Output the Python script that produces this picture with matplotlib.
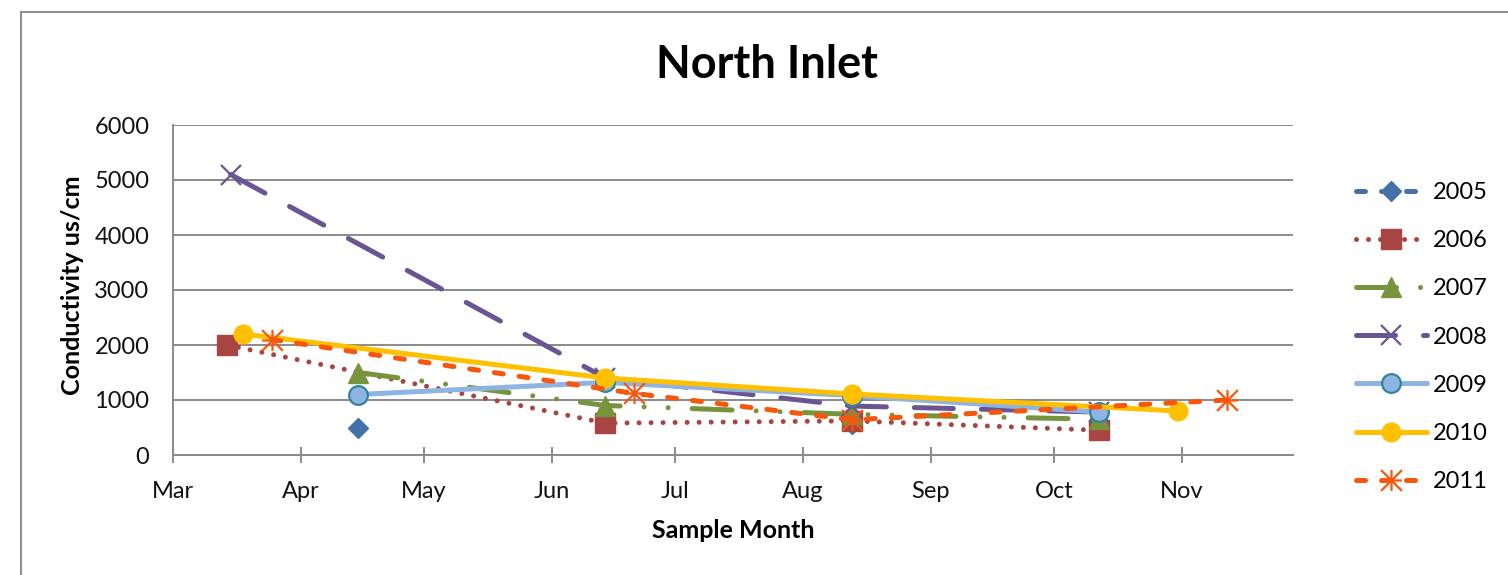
import datetime as dt

import matplotlib
matplotlib.use("Agg")
import matplotlib.pyplot as plt
import matplotlib.dates as mdates
from matplotlib.lines import Line2D
from matplotlib.path import Path

plt.rcParams["font.family"] = ["Lato", "DejaVu Sans"]
plt.rcParams["lines.scale_dashes"] = False

# Sample dates share one calendar year; only month/day matter on the axis.
YEAR = 2011


def day(month, dom):
    return dt.date(YEAR, month, dom)


years = ["2005", "2006", "2007", "2008", "2009", "2010", "2011"]

dates_2005 = [day(4, 15), day(6, 14), day(8, 13)]
cond_2005 = [500, float("nan"), 560]

dates_2006 = [day(3, 14), day(6, 14), day(8, 13), day(10, 12)]
cond_2006 = [2000, 580, 620, 450]

dates_2007 = [day(4, 15), day(6, 14), day(8, 13), day(10, 12)]
cond_2007 = [1500, 900, 740, 650]

dates_2008 = [day(3, 15), day(6, 14), day(8, 13), day(10, 12)]
cond_2008 = [5100, 1400, 890, 780]

dates_2009 = [day(4, 15), day(6, 14), day(8, 13), day(10, 12)]
cond_2009 = [1100, 1320, 1080, 780]

dates_2010 = [day(3, 18), day(6, 14), day(8, 13), day(10, 31)]
cond_2010 = [2200, 1400, 1110, 800]

dates_2011 = [day(3, 25), day(6, 21), day(8, 13), day(11, 12)]
cond_2011 = [2100, 1120, 640, 1000]

y_ticks = [0, 1000, 2000, 3000, 4000, 5000, 6000]

PX = 72.0 / 100.0  # points per pixel at 100 dpi
W, H = 1508, 575

# asterisk marker: vertical, horizontal and both diagonals
star_path = Path(
    [(0, -1), (0, 1), (-1, 0), (1, 0), (-1, -1), (1, 1), (-1, 1), (1, -1)],
    [Path.MOVETO, Path.LINETO] * 4,
)

fig = plt.figure(figsize=(W / 100, H / 100), dpi=100)
ax = fig.add_axes([173 / W, 1 - 455 / H, 1120 / W, 330 / H])

lw = 5 * PX
common = dict(lw=lw, dash_capstyle="round", solid_capstyle="round")

ax.plot(dates_2005, cond_2005, color="#4472A8", marker="D", ms=10.2,
        mec="#4472A8", dashes=(9 * PX, 16 * PX), label="2005", **common)
ax.plot(dates_2006, cond_2006, color="#A84442", marker="s", ms=14,
        mec="#A84442", lw=5 * PX, dashes=(0.01, 12 * PX),
        dash_capstyle="round", label="2006")
ax.plot(dates_2007, cond_2007, color="#77933C", marker="^", ms=14.5,
        mec="#77933C",
        dashes=(40 * PX, 24 * PX, 0.01, 24 * PX, 0.01, 24 * PX),
        label="2007", **common)
ax.plot(dates_2008, cond_2008, color="#6A5592", marker="x", ms=14.5,
        mew=1.6, dashes=(39 * PX, 28 * PX), label="2008", **common)
ax.plot(dates_2009, cond_2009, color="#8DB4E2", marker="o", ms=13.5,
        mfc="#8DB4E2", mec="#31859C", mew=1.6, label="2009", **common)
ax.plot(dates_2010, cond_2010, color="#FFC000", marker="o", ms=13.5,
        mec="#FFC000", label="2010", **common)
ax.plot(dates_2011, cond_2011, color="#F8570B", marker=star_path, ms=15,
        mew=1.6, mec="#F8570B", dashes=(9 * PX, 16 * PX), label="2011",
        **common)

# axes styling
grid_col = "#8A8A8A"
ax.set_ylim(0, 6000)
ax.set_yticks(y_ticks)
ax.set_xlim(mdates.date2num(day(3, 1)), mdates.date2num(day(11, 28)))
ax.xaxis.set_major_locator(mdates.MonthLocator())
ax.xaxis.set_major_formatter(mdates.DateFormatter("%b"))
ax.yaxis.grid(True, color=grid_col, lw=1.4)
ax.set_axisbelow(True)
for s in ("top", "right"):
    ax.spines[s].set_visible(False)
for s in ("left", "bottom"):
    ax.spines[s].set_color(grid_col)
    ax.spines[s].set_linewidth(1.4)
ax.tick_params(axis="y", length=0, pad=17, labelsize=17, labelcolor="#111111")
ax.tick_params(axis="x", direction="inout", length=16 * PX, width=1.4,
               color=grid_col, pad=13, labelsize=17, labelcolor="#111111")

# axis titles and chart title
fig.text(733 / W, 1 - 530 / H, "Sample Month", fontsize=18,
         fontweight="bold", ha="center", va="center")
fig.text(72 / W, 1 - 285 / H, "Conductivity us/cm", fontsize=18,
         fontweight="bold", ha="center", va="center", rotation=90)
fig.text(767 / W, 1 - 65 / H, "North Inlet", fontsize=32.5,
         fontweight="bold", ha="center", va="center")

leg = ax.legend(loc="center left",
                bbox_to_anchor=(1356 / W, 1 - 337 / H),
                bbox_transform=fig.transFigure, frameon=False, fontsize=17,
                handlelength=3.0, handletextpad=0.25, labelspacing=1.15,
                borderpad=0, borderaxespad=0, numpoints=1)

# outer frame of the chart area
frame_col = "#8F8F8F"
fig.add_artist(Line2D([21 / W, 1], [1 - 12 / H] * 2,
                      transform=fig.transFigure, color=frame_col, lw=1.5))
fig.add_artist(Line2D([21 / W] * 2, [0, 1 - 12 / H],
                      transform=fig.transFigure, color=frame_col, lw=1.5))

fig.savefig("out.png", dpi=100)
